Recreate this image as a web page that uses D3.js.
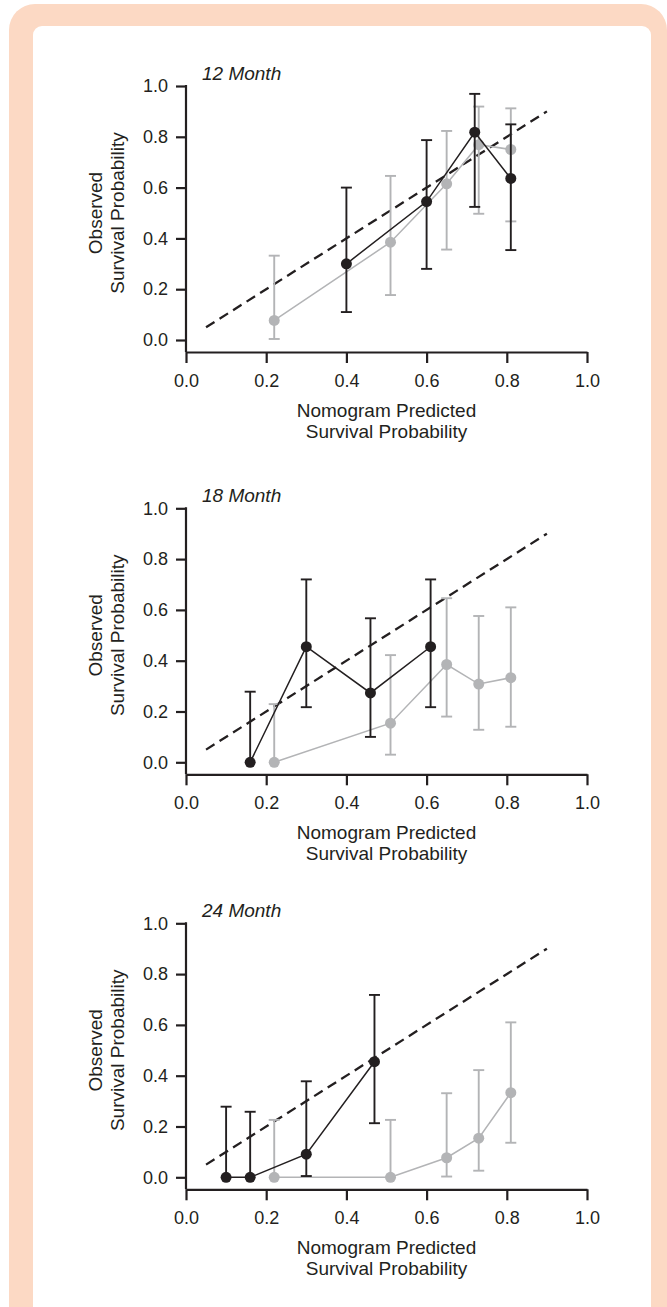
<!DOCTYPE html>
<html>
<head>
<meta charset="utf-8">
<script src="https://cdn.jsdelivr.net/npm/d3@7"></script>
<style>
  body { margin: 0; background: #fff; }
  svg { display: block; }
  text { font-family: "Liberation Sans", Arial, sans-serif; fill: #231f20; }
</style>
</head>
<body>
<svg id="chart" width="667" height="1307"></svg>
<script>
// columns: predicted, observed, lower CI, upper CI
const black12 = [[0.40, 0.30, 0.11, 0.60], [0.60, 0.545, 0.28, 0.787], [0.72, 0.818, 0.524, 0.969], [0.81, 0.636, 0.354, 0.849]];
const gray12 = [[0.22, 0.077, 0.004, 0.332], [0.51, 0.385, 0.177, 0.646], [0.65, 0.615, 0.356, 0.823], [0.73, 0.769, 0.497, 0.919], [0.81, 0.75, 0.467, 0.912]];
const black18 = [[0.16, 0, 0, 0.278], [0.30, 0.455, 0.217, 0.72], [0.46, 0.273, 0.10, 0.567], [0.61, 0.455, 0.217, 0.72]];
const gray18 = [[0.22, 0, 0, 0.229], [0.51, 0.154, 0.03, 0.422], [0.65, 0.385, 0.18, 0.646], [0.73, 0.308, 0.128, 0.576], [0.81, 0.333, 0.14, 0.61]];
const black24 = [[0.10, 0, 0, 0.278], [0.16, 0, 0, 0.258], [0.30, 0.091, 0.005, 0.378], [0.47, 0.455, 0.213, 0.718]];
const gray24 = [[0.22, 0, 0, 0.226], [0.51, 0, 0, 0.226], [0.65, 0.077, 0.003, 0.331], [0.73, 0.154, 0.026, 0.422], [0.81, 0.333, 0.136, 0.61]];
const titles = ["12 Month", "18 Month", "24 Month"];
const xTicks = [0, 0.2, 0.4, 0.6, 0.8, 1.0];
const yTicks = [0, 0.2, 0.4, 0.6, 0.8, 1.0];
const diagonal = [0.05, 0.9];

const BLACK = "#231f20", GRAY = "#b3b4b6";
const svg = d3.select("#chart");

// frame
svg.append("rect").attr("x", 9).attr("y", 4).attr("width", 658).attr("height", 1340)
	.attr("rx", 26).attr("fill", "#fcd9c4");
svg.append("rect").attr("x", 33).attr("y", 26).attr("width", 618).attr("height", 1320)
	.attr("rx", 9).attr("fill", "#fff");

const panelTop = [86, 508.3, 923.3];
const x = d3.scaleLinear().domain([0, 1]).range([186, 587]);

const panels = [
	{ title: titles[0], black: black12, gray: gray12 },
	{ title: titles[1], black: black18, gray: gray18 },
	{ title: titles[2], black: black24, gray: gray24 }
];

panels.forEach((p, i) => {
	const top = panelTop[i];
	const y = d3.scaleLinear().domain([0, 1]).range([top + 254, top]);
	const axisY = y(0) + 12;
	const g = svg.append("g");

	// x axis
	const gx = g.append("g")
		.attr("transform", `translate(0, ${axisY})`)
		.call(d3.axisBottom(x).tickValues(xTicks).tickSize(11).tickSizeOuter(0).tickPadding(11).tickFormat(d3.format(".1f")));
	// y axis
	const gy = g.append("g")
		.attr("transform", `translate(${x(0)}, 0)`)
		.call(d3.axisLeft(y).tickValues(yTicks).tickSize(10).tickSizeOuter(0).tickPadding(8).tickFormat(d3.format(".1f")));
	gy.select(".domain").attr("d", `M0,${y(1) - 1}V${axisY}`);

	[gx, gy].forEach((a) => {
		a.selectAll("path, line").attr("stroke", BLACK).attr("stroke-width", 2.2);
		a.selectAll("text").style("font-size", "18px").attr("fill", BLACK)
			.style("font-family", '"Liberation Sans", Arial, sans-serif');
	});

	// titles
	g.append("text").attr("x", 202).attr("y", y(1) - 6)
		.style("font-size", "19px").style("font-style", "italic").text(p.title);

	const xt = g.append("text").attr("text-anchor", "middle").style("font-size", "19px");
	xt.append("tspan").attr("x", (x(0) + x(1)) / 2).attr("y", axisY + 65).text("Nomogram Predicted");
	xt.append("tspan").attr("x", (x(0) + x(1)) / 2).attr("y", axisY + 86).text("Survival Probability");

	const cy = (y(0) + y(1)) / 2;
	const yt = g.append("text").attr("text-anchor", "middle").style("font-size", "19px")
		.attr("transform", `translate(0, ${cy}) rotate(-90)`);
	yt.append("tspan").attr("x", 0).attr("y", 102).text("Observed");
	yt.append("tspan").attr("x", 0).attr("y", 123.5).text("Survival Probability");

	// reference diagonal
	g.append("path")
		.attr("d", d3.line().x((d) => x(d)).y((d) => y(d))(diagonal))
		.attr("fill", "none").attr("stroke", BLACK).attr("stroke-width", 2.3)
		.attr("stroke-dasharray", "10,6");

	// series
	[[p.gray, GRAY], [p.black, BLACK]].forEach(([data, color]) => {
		const s = g.append("g");
		s.append("path")
			.attr("d", d3.line().x((d) => x(d[0])).y((d) => y(d[1]))(data))
			.attr("fill", "none").attr("stroke", color).attr("stroke-width", 1.5);

		const bars = s.selectAll(".err").data(data).enter().append("g")
			.attr("stroke", color).attr("stroke-width", 1.9);
		bars.append("line")
			.attr("x1", (d) => x(d[0])).attr("x2", (d) => x(d[0]))
			.attr("y1", (d) => y(d[2])).attr("y2", (d) => y(d[3]));
		bars.append("line")
			.attr("x1", (d) => x(d[0]) - 5.5).attr("x2", (d) => x(d[0]) + 5.5)
			.attr("y1", (d) => y(d[3])).attr("y2", (d) => y(d[3]));
		bars.filter((d) => d[2] < d[1]).append("line")
			.attr("x1", (d) => x(d[0]) - 5.5).attr("x2", (d) => x(d[0]) + 5.5)
			.attr("y1", (d) => y(d[2])).attr("y2", (d) => y(d[2]));

		s.selectAll("circle").data(data).enter().append("circle")
			.attr("cx", (d) => x(d[0])).attr("cy", (d) => y(d[1]))
			.attr("r", 5.5).attr("fill", color);
	});
});
</script>
</body>
</html>
